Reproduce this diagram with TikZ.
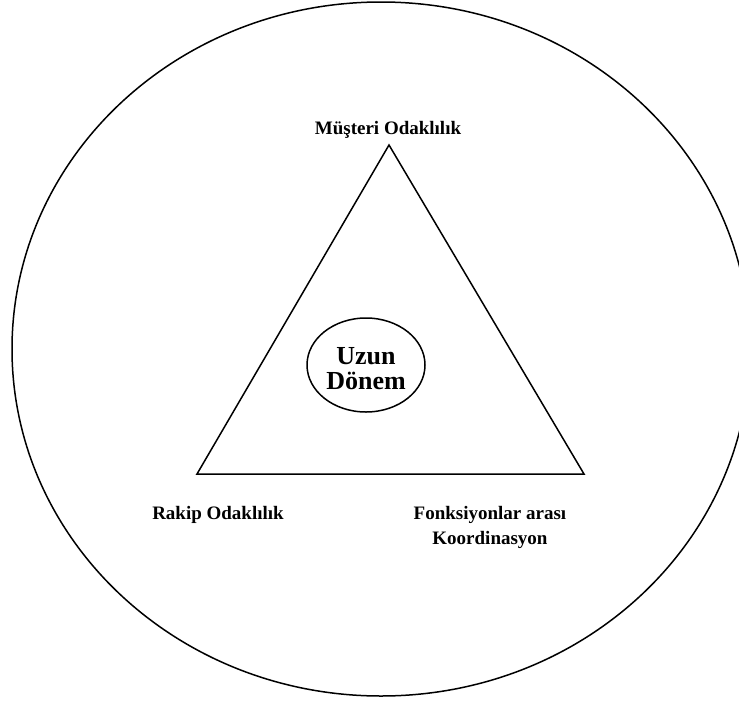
\documentclass[tikz,border=0pt]{standalone}
\usepackage{fontspec}
\setmainfont{Liberation Serif}
\usetikzlibrary{shapes.geometric}
\begin{document}
\begin{tikzpicture}[x=1pt,y=-1pt,
  line/.style={draw=black,line width=1.5pt},
  lbl/.style={font=\fontsize{19}{23}\selectfont\bfseries,align=center,inner sep=0pt},
  biglbl/.style={font=\fontsize{26}{30}\selectfont\bfseries,align=center,inner sep=0pt}]
\useasboundingbox (0,0) rectangle (739,702);
\begin{scope}
\clip (0,0) rectangle (739,702);
\draw[line] (381,349) ellipse [x radius=369, y radius=347];
\end{scope}
\coordinate (apex) at (389,145);
\coordinate (bl) at (197,474);
\coordinate (br) at (584,474);
\draw[line,line join=miter] (apex) -- (br) -- (bl) -- cycle;
\node[line,ellipse,minimum width=118pt,minimum height=94pt,inner sep=0pt] (inner) at (366,365) {};
\node[biglbl] (uzun) at (366,356) {Uzun};
\node[biglbl] (donem) at (366,381) {Dönem};
\node[lbl,anchor=base] (mus) at (388,134) {Müşteri Odaklılık};
\node[lbl,anchor=base] (rak) at (218,519) {Rakip Odaklılık};
\node[lbl,anchor=base] (fon) at (490,519) {Fonksiyonlar arası};
\node[lbl,anchor=base] (koo) at (490,544) {Koordinasyon};
\end{tikzpicture}
\end{document}
